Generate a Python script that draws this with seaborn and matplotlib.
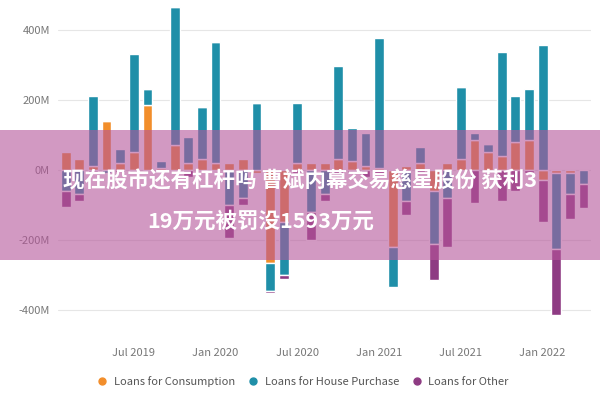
import matplotlib
matplotlib.use("Agg")
import matplotlib.pyplot as plt
import seaborn as sns
import numpy as np
import pandas as pd

months = pd.date_range("2019-02-01", "2022-04-01", freq="MS")
consumption = [50, 30, 10, 140, 20, 50, 185, 5, 70, 20, 30, 20, 20, 30, -10, -265, -150, 20, 20, 20,
               30, 25, 10, 5, -220, 10, 20, -60, 20, 30, 85, 50, 40, 80, 85, -30, -10, -10, 0]
house = [-60, -70, 200, -10, 40, 280, 45, 20, 395, 75, 150, 345, -100, -80, 190, -80, -150, 170, -120, -70,
         265, 95, 95, 370, -115, -90, 45, -150, -80, 205, 20, 25, 295, 130, 145, 355, -215, -60, -40]
other = [-45, -20, -10, 0, -5, -5, 0, -5, 0, -20, 0, 0, -95, -20, 0, -5, -10, -10, -80, -20,
         -10, -10, -20, -10, 0, -40, -5, -105, -140, 0, -95, 0, -90, -60, -10, -120, -190, -70, -70]
tick_labels = ["Jul 2019", "Jan 2020", "Jul 2020", "Jan 2021", "Jul 2021", "Jan 2022"]
series_names = ["Loans for Consumption", "Loans for House Purchase", "Loans for Other"]
colors = ["#f28e2b", "#1f8fa8", "#8e3b83"]

sns.set_theme(style="white")
plt.rcParams['font.family'] = ['Noto Sans CJK SC', 'DejaVu Sans']

fig = plt.figure(figsize=(6, 4), dpi=100)
ax = fig.add_axes([0.097, 0.15, 0.888, 0.8375])

x = np.arange(len(months))
pos_b = np.zeros(len(x))
neg_b = np.zeros(len(x))
for vals, name, c in zip([consumption, house, other], series_names, colors):
    v = np.array(vals, dtype=float)
    bottom = np.where(v >= 0, pos_b, neg_b)
    ax.bar(x, v, bottom=bottom, width=0.72, color=c, label=name, zorder=3)
    pos_b = pos_b + np.where(v >= 0, v, 0)
    neg_b = neg_b + np.where(v < 0, v, 0)

ax.set_ylim(-485, 470)
ax.set_xlim(-0.55, len(x) - 0.45)
ax.set_yticks([-400, -200, 0, 200, 400])
ax.set_yticklabels(["-400M", "-200M", "0M", "200M", "400M"], color="#777777", fontsize=8)
ax.yaxis.grid(True, color="#e6e6e6", lw=0.8, zorder=0)
tick_pos = [list(months).index(pd.Timestamp(t)) for t in ["2019-07-01", "2020-01-01", "2020-07-01", "2021-01-01", "2021-07-01", "2022-01-01"]]
ax.set_xticks(tick_pos)
ax.set_xticklabels(tick_labels, color="#777777", fontsize=8)
ax.tick_params(axis="both", length=0, pad=6)
for s in ax.spines.values():
    s.set_visible(False)

handles = [plt.Line2D([], [], marker="o", ls="", color=c, markersize=5) for c in colors]
fig.legend(handles, series_names, loc="center", bbox_to_anchor=(0.5, 0.047), ncol=3, frameon=False,
           fontsize=8, labelcolor="#555555", handletextpad=0.05, columnspacing=0.6)

fig.patches.append(plt.Rectangle((0, 0.35), 1, 0.325, transform=fig.transFigure,
                                 facecolor="#b5559a", edgecolor="none", lw=0, alpha=0.6, zorder=10))
fig.text(0.5, 0.548, "现在股市还有杠杆吗 曹斌内幕交易慈星股份 获利3", ha="center", va="center",
         color="white", fontsize=15.5, fontweight="bold", zorder=11)
fig.text(0.245, 0.448, "19万元被罚没1593万元", ha="left", va="center",
         color="white", fontsize=15.5, fontweight="bold", zorder=11)

fig.savefig("out.png", dpi=100)
